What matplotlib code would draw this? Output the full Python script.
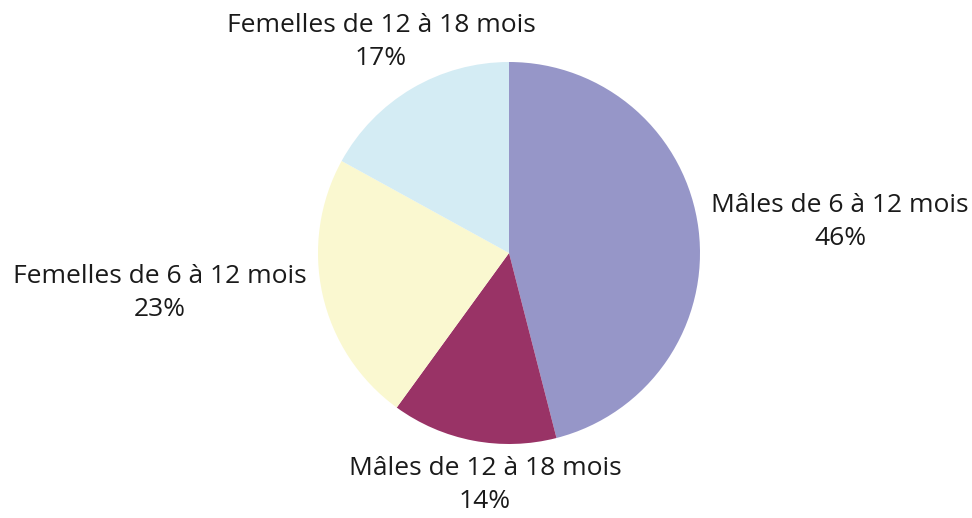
import matplotlib.pyplot as plt

plt.rcParams['font.family'] = ['Open Sans', 'DejaVu Sans']

categories = ["Mâles de 6 à 12 mois", "Mâles de 12 à 18 mois",
              "Femelles de 6 à 12 mois", "Femelles de 12 à 18 mois"]
values = [46, 14, 23, 17]
colors = ["#9696c8", "#993366", "#faf8d0", "#d4ecf4"]

# label centres (data units, pie radius = 1)
label_pos = [(1.733, 0.162), (-0.126, -1.215), (-1.827, -0.209), (-0.670, 1.105)]

fig = plt.figure(figsize=(9.72, 5.18), dpi=100)
ax = fig.add_axes([0, 0, 1, 1])

ax.pie(values, colors=colors, startangle=90, counterclock=False,
       radius=1.0, center=(0, 0), frame=True,
       wedgeprops=dict(linewidth=0))

for cat, v, (x, y) in zip(categories, values, label_pos):
    ax.text(x, y, f"{cat}\n{v}%", ha='center', va='center',
            fontsize=19, color='#1a1a1a', linespacing=1.42)

ax.set_xlim(-509 / 191, 463 / 191)
ax.set_ylim(-265 / 191, 253 / 191)
ax.set_aspect('auto')
ax.axis('off')

fig.savefig("out.png", dpi=100)
